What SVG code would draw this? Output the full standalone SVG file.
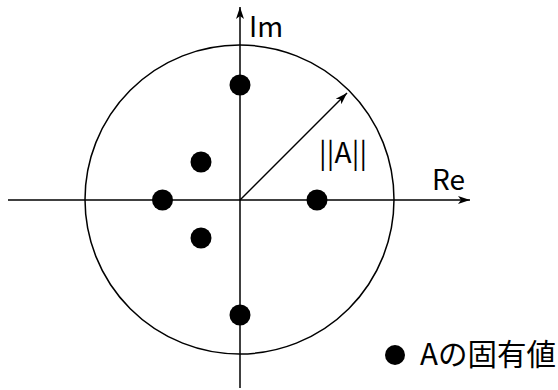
<svg xmlns="http://www.w3.org/2000/svg" width="558" height="390" viewBox="0 0 558 390">
<style>
.ln{stroke:#000;stroke-width:1.5;fill:none}
.dot{fill:#000}
.t{font-family:"Noto Sans CJK JP","Noto Sans",sans-serif;font-size:28px;fill:#000}
</style>
<defs>
<marker id="ah" viewBox="0 0 12 10" refX="12" refY="5" markerWidth="12" markerHeight="10" markerUnits="userSpaceOnUse" orient="auto">
<path d="M0,1 L12,5 L0,9 L3,5 Z" fill="#000"/>
</marker>
</defs>
<rect width="558" height="390" fill="#fff"/>
<g id="connectors">
<circle class="ln" cx="239.5" cy="199.5" r="154.5"/>
<line class="ln" x1="8" y1="200" x2="470" y2="200" marker-end="url(#ah)"/>
<line class="ln" x1="240" y1="388" x2="240" y2="7" marker-end="url(#ah)"/>
<line class="ln" x1="240" y1="200" x2="347" y2="93" marker-end="url(#ah)"/>
</g>
<g id="eigenvalues">
<circle class="dot" cx="240" cy="85" r="10.5"/>
<circle class="dot" cx="201" cy="162" r="10.5"/>
<circle class="dot" cx="162.5" cy="200" r="10.5"/>
<circle class="dot" cx="317" cy="200" r="10.5"/>
<circle class="dot" cx="201" cy="238" r="10.5"/>
<circle class="dot" cx="240" cy="315" r="10.5"/>
</g>
<g id="labels">
<text class="t" x="249" y="37">Im</text>
<text class="t" x="319" y="163" textLength="48">||A||</text>
<text class="t" x="432" y="190">Re</text>
</g>
<g id="legend">
<circle class="dot" cx="395" cy="355" r="10"/>
<text class="t" x="420" y="365" style="font-size:29.5px">Aの固有値</text>
</g>
</svg>
